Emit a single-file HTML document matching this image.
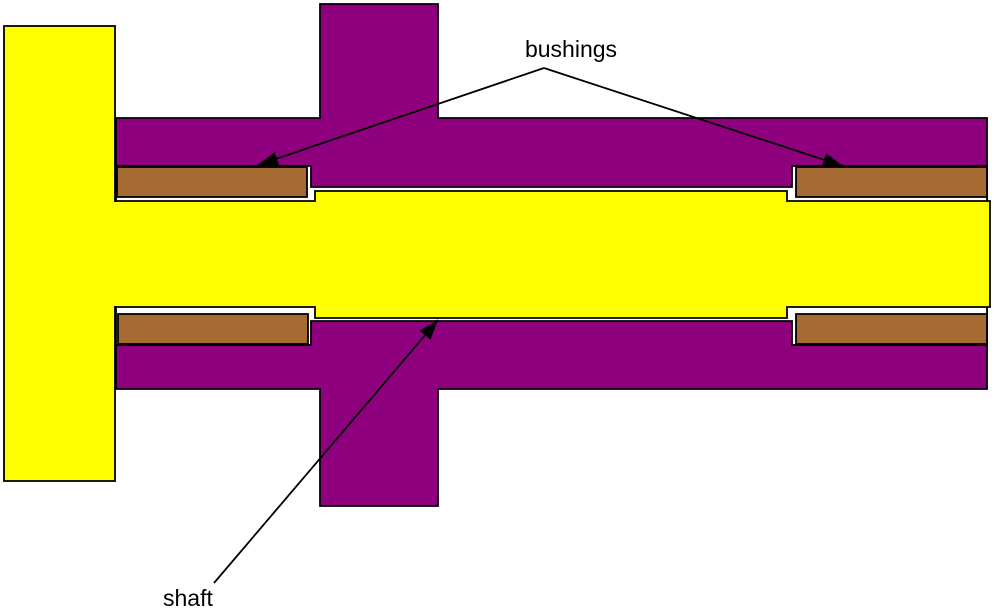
<!DOCTYPE html>
<html><head><meta charset="utf-8"><style>
html,body{margin:0;padding:0;background:#fff;}
svg{display:block;}
text{font-family:"Liberation Sans",Arial,sans-serif;font-size:23px;fill:#000;}
</style></head><body>
<svg width="994" height="612" viewBox="0 0 994 612">
<defs>
<marker id="ah2" viewBox="0 0 20 14" refX="20" refY="7" markerWidth="20" markerHeight="14" markerUnits="userSpaceOnUse" orient="auto"><path d="M0,0 L20,7 L0,14 z" fill="#000"/></marker>
</defs>
<g stroke="#000" stroke-width="1.8">
<!-- housing as single outline -->
<path d="M320,4 L438,4 L438,118 L987,118 L987,389 L438,389 L438,506 L320,506 L320,389 L116,389 L116,118 L320,118 Z" fill="#8e007e"/>
<!-- bore -->
<rect x="116" y="166" width="871" height="179" fill="#fff"/>
<!-- housing middle lands -->
<rect x="311" y="165" width="481" height="22" fill="#8e007e" stroke="none"/>
<path d="M311,166 L311,187 L792,187 L792,166" fill="none"/>
<rect x="311" y="321" width="481" height="25" fill="#8e007e" stroke="none"/>
<path d="M311,346 L311,321 L792,321 L792,346" fill="none"/>
<!-- bushings -->
<rect x="117" y="167" width="190" height="30" fill="#a66a33"/>
<rect x="796" y="167" width="191" height="30" fill="#a66a33"/>
<rect x="118" y="314" width="190" height="30" fill="#a66a33"/>
<rect x="796" y="314" width="191" height="30" fill="#a66a33"/>
<!-- shaft -->
<path d="M116,201 L315,201 L315,191 L787,191 L787,201 L990,201 L990,307 L787,307 L787,318 L315,318 L315,307 L116,307 Z" fill="#ffff00"/>
<rect x="4" y="26" width="111" height="455" fill="#ffff00"/>
<rect x="110" y="202" width="8" height="104" fill="#ffff00" stroke="none"/>
</g>
<g stroke="#000" stroke-width="1.8" fill="none">
<line x1="544" y1="68" x2="258" y2="165" marker-end="url(#ah2)"/>
<line x1="544" y1="68" x2="843" y2="166" marker-end="url(#ah2)"/>
<line x1="214" y1="583" x2="438" y2="320" marker-end="url(#ah2)"/>
</g>
<text x="571" y="57" text-anchor="middle">bushings</text>
<text x="163" y="606">shaft</text>
</svg>
</body></html>
